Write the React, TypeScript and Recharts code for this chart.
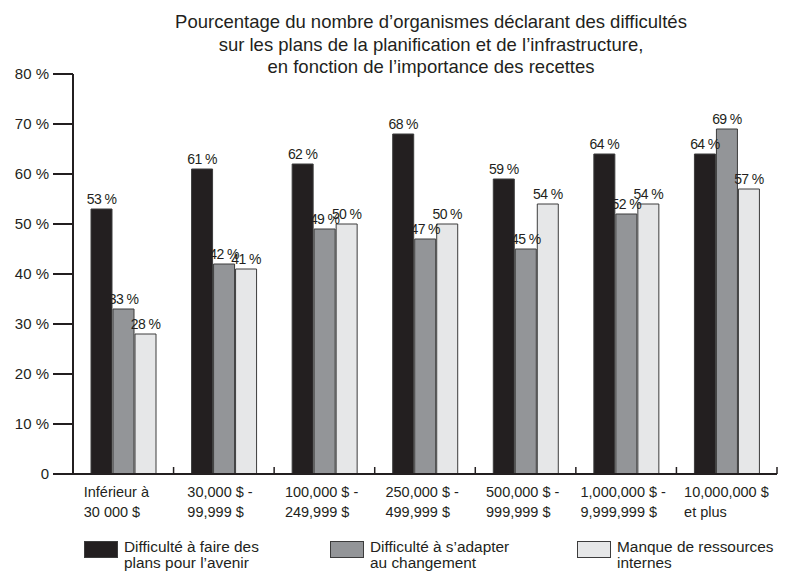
import React from 'react';
import { BarChart, Bar, XAxis, YAxis } from 'recharts';

// Catégories (tranches de recettes) — deux lignes par étiquette
const categories = [
  'Inférieur à\n30 000 $',
  '30,000 $ -\n99,999 $',
  '100,000 $ -\n249,999 $',
  '250,000 $ -\n499,999 $',
  '500,000 $ -\n999,999 $',
  '1,000,000 $ -\n9,999,999 $',
  '10,000,000 $\net plus',
];

const planifier = [53, 61, 62, 68, 59, 64, 64];
const adapter = [33, 42, 49, 47, 45, 52, 69];
const ressources = [28, 41, 50, 50, 54, 54, 57];

const yTicks = [0, 10, 20, 30, 40, 50, 60, 70, 80];

const titleLines = [
  'Pourcentage du nombre d’organismes déclarant des difficultés',
  'sur les plans de la planification et de l’infrastructure,',
  'en fonction de l’importance des recettes',
];

const legendItems = [
  { lines: ['Difficulté à faire des', 'plans pour l’avenir'], color: '#231f20', left: 84 },
  { lines: ['Difficulté à s’adapter', 'au changement'], color: '#939598', left: 330 },
  { lines: ['Manque de ressources', 'internes'], color: '#e6e7e8', left: 577 },
];

const data = categories.map((c, i) => ({
  cat: c,
  planifier: planifier[i],
  adapter: adapter[i],
  ressources: ressources[i],
}));

const FONT = '"Liberation Sans", Arial, sans-serif';
const INK = '#231f20';
const PLOT_LEFT = 73;
const PLOT_RIGHT = 777;
const BAND = (PLOT_RIGHT - PLOT_LEFT) / categories.length;

const CategoryTick = (props: any) => {
  const { x, y, payload } = props;
  const lines = String(payload.value).split('\n');
  const start = x - 6 - (lines[0].length * 6.1) / 2;
  return (
    <g>
      <line x1={x + BAND / 2} y1={y} x2={x + BAND / 2} y2={y - 7} stroke={INK} strokeWidth={1.5} />
      {lines.map((l, i) => (
        <text key={i} x={start} y={y + 23 + i * 20} fill={INK} fontSize={14.5} fontFamily={FONT} textAnchor="start">
          {l}
        </text>
      ))}
    </g>
  );
};

// étiquette de valeur au-dessus de chaque barre, sans retour à la ligne
const renderLabel = (props: any) => {
  const { x, y, width, value } = props;
  return (
    <text
      x={x + width / 2}
      y={y - 5}
      textAnchor="middle"
      fill={INK}
      fontSize={14}
      letterSpacing={-0.6}
      fontFamily={FONT}
    >
      {`${value} %`}
    </text>
  );
};

export default function App() {
  return (
    <div style={{ position: 'absolute', left: 0, top: 0, width: 789, height: 574, background: '#fff', fontFamily: FONT }}>
      {titleLines.map((t, i) => (
        <div
          key={i}
          style={{
            position: 'absolute',
            left: 0,
            width: 862,
            top: 11 + i * 22.5,
            textAlign: 'center',
            fontSize: 18.5,
            color: INK,
            lineHeight: '21px',
            whiteSpace: 'nowrap',
          }}
        >
          {t}
        </div>
      ))}
      <div style={{ position: 'absolute', left: 0, top: 0 }}>
        <BarChart
          width={789}
          height={574}
          data={data}
          margin={{ top: 74, right: 789 - PLOT_RIGHT, bottom: 40, left: 0 }}
          barCategoryGap={18}
          barGap={1}
        >
          <XAxis
            dataKey="cat"
            height={60}
            interval={0}
            tickLine={false}
            tickSize={0}
            tickMargin={0}
            axisLine={{ stroke: INK, strokeWidth: 2 }}
            tick={<CategoryTick />}
          />
          <YAxis
            width={PLOT_LEFT}
            domain={[0, 80]}
            ticks={yTicks}
            interval={0}
            tickSize={20}
            tickMargin={4}
            axisLine={{ stroke: INK, strokeWidth: 2 }}
            tickLine={{ stroke: INK, strokeWidth: 2 }}
            tickFormatter={(v: number) => (v === 0 ? '0' : `${v} %`)}
            tick={{ fill: INK, fontSize: 15, fontFamily: FONT }}
          />
          <Bar dataKey="planifier" fill="#231f20" stroke="#3c3c3c" strokeWidth={1} isAnimationActive={false} label={renderLabel} />
          <Bar dataKey="adapter" fill="#939598" stroke="#3c3c3c" strokeWidth={1} isAnimationActive={false} label={renderLabel} />
          <Bar dataKey="ressources" fill="#e6e7e8" stroke="#3c3c3c" strokeWidth={1} isAnimationActive={false} label={renderLabel} />
        </BarChart>
      </div>
      {legendItems.map((it, i) => (
        <div key={i} style={{ position: 'absolute', left: it.left, top: 541, display: 'flex', alignItems: 'flex-start' }}>
          <div style={{ width: 34, height: 17, background: it.color, border: '1px solid #3c3c3c', boxSizing: 'border-box' }} />
          <div style={{ marginLeft: 6, marginTop: -2, fontSize: 15.4, lineHeight: '16px', color: INK }}>
            {it.lines.map((l, j) => (
              <div key={j}>{l}</div>
            ))}
          </div>
        </div>
      ))}
    </div>
  );
}
